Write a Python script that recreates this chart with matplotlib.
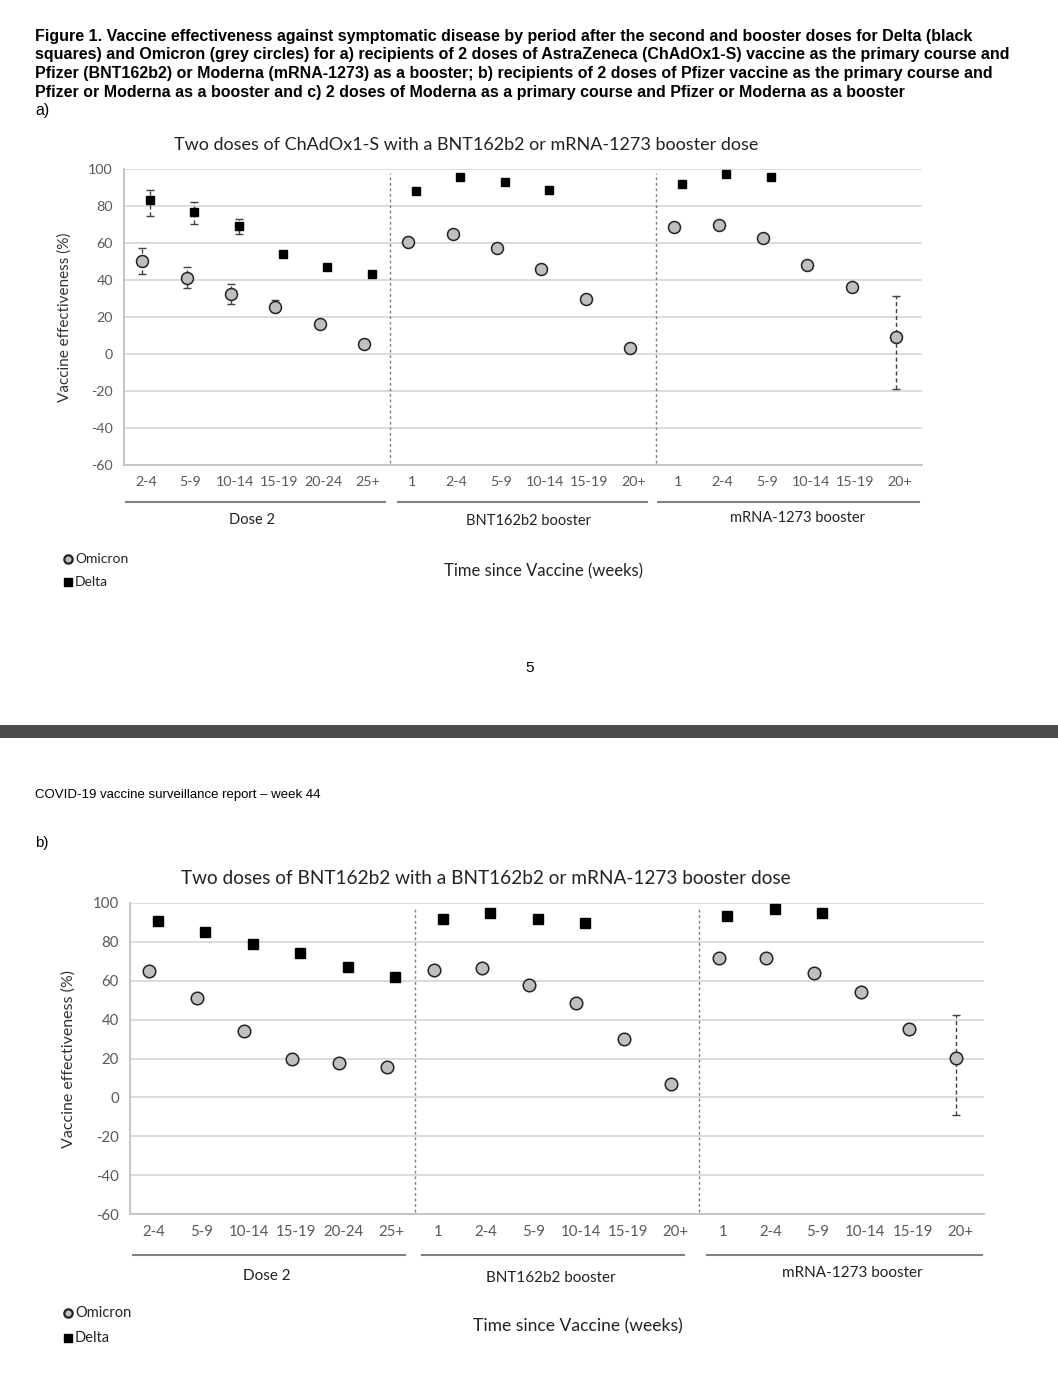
import numpy as np
import matplotlib
matplotlib.use("Agg")
import matplotlib.pyplot as plt
from matplotlib.lines import Line2D
from matplotlib.patches import Rectangle

# ------------------------------------------------------------
# Data
# ------------------------------------------------------------
periods = ["2-4", "5-9", "10-14", "15-19", "20-24", "25+",
           "1", "2-4", "5-9", "10-14", "15-19", "20+",
           "1", "2-4", "5-9", "10-14", "15-19", "20+"]
groups = ["Dose 2", "BNT162b2 booster", "mRNA-1273 booster"]
nan = np.nan

# a) ChAdOx1-S primary
a_omicron = [50.3, 41.3, 32.6, 25.6, 16.0, 5.6,
             60.4, 65.0, 57.3, 45.8, 29.6, 3.1,
             68.6, 69.7, 62.5, 48.1, 36.4, 9.0]
a_omicron_lo = [43.0, 35.9, 27.2, 22.9, nan, nan,
                nan, nan, nan, nan, nan, 1.5,
                nan, nan, nan, nan, nan, -18.9]
a_omicron_hi = [57.3, 47.2, 38.0, 29.0, nan, nan,
                nan, nan, nan, nan, nan, 5.0,
                nan, nan, nan, nan, nan, 31.2]
a_delta = [83.1, 76.6, 69.4, 54.1, 47.0, 43.2,
           88.3, 95.7, 92.8, 88.8, nan, nan,
           91.7, 97.3, 95.7, nan, nan, nan]
a_delta_lo = [74.6, 70.5, 64.9, 52.3, nan, nan,
              nan, nan, nan, nan, nan, nan,
              nan, nan, nan, nan, nan, nan]
a_delta_hi = [88.6, 82.0, 73.0, 55.8, nan, nan,
              nan, nan, nan, nan, nan, nan,
              nan, nan, nan, nan, nan, nan]

# b) BNT162b2 primary
b_omicron = [65.0, 51.1, 34.1, 19.9, 17.7, 15.8,
             65.7, 66.7, 57.9, 48.4, 29.9, 6.9,
             71.8, 71.5, 64.0, 54.0, 35.0, 20.3]
b_omicron_lo = [nan] * 16 + [32.8, -8.9]
b_omicron_hi = [nan] * 16 + [38.0, 42.4]
b_delta = [90.7, 85.0, 78.7, 74.2, 67.2, 62.1,
           91.9, 94.6, 91.6, 89.8, nan, nan,
           93.3, 96.9, 94.6, nan, nan, nan]

yticks = [-60, -40, -20, 0, 20, 40, 60, 80, 100]

title_a = "Two doses of ChAdOx1-S with a BNT162b2 or mRNA-1273 booster dose"
title_b = "Two doses of BNT162b2 with a BNT162b2 or mRNA-1273 booster dose"

caption = [
    "Figure 1. Vaccine effectiveness against symptomatic disease by period after the second and booster doses for Delta (black",
    "squares) and Omicron (grey circles) for a) recipients of 2 doses of AstraZeneca (ChAdOx1-S) vaccine as the primary course and",
    "Pfizer (BNT162b2) or Moderna (mRNA-1273) as a booster; b) recipients of 2 doses of Pfizer vaccine as the primary course and",
    "Pfizer or Moderna as a booster and c) 2 doses of Moderna as a primary course and Pfizer or Moderna as a booster",
]

# ------------------------------------------------------------
# Style
# ------------------------------------------------------------
W, H = 1058, 1388
DOC_FONT = "Liberation Sans"
CHART_FONT = "Lato"
GRID = "#d9d9d9"
TICK = "#595959"
OMI_FILL = "#bfbfbf"

plt.rcParams["axes.unicode_minus"] = False


def fx(x):
    return x / W


def fy(y):
    return 1 - y / H


def draw_panel(fig, box, title, title_xy, omi, delta, omi_lo, omi_hi,
               delta_lo=None, delta_hi=None, k=1.0):
    # k: scale of the page screenshot (second page is a bit bigger)
    left, top, right, bottom = box
    ax = fig.add_axes([fx(left), fy(bottom), (right - left) / W, (bottom - top) / H])
    x = np.arange(len(periods))
    ax.set_xlim(-0.5, len(periods) - 0.5)
    ax.set_ylim(-60, 100)

    for v in yticks[1:]:
        ax.axhline(v, color=GRID, lw=1.3, zorder=0)
    for xv in [5.5, 11.5]:
        ax.vlines(xv, -59, 98, colors="#808080", linestyles=(0, (2, 2)), lw=1.0, zorder=1)

    omi = np.array(omi, float)
    lo = np.array(omi_lo, float)
    hi = np.array(omi_hi, float)
    m = ~np.isnan(lo)
    eb = ax.errorbar(x[m] - 0.09, omi[m], yerr=[omi[m] - lo[m], hi[m] - omi[m]],
                     fmt="none", ecolor="#404040", elinewidth=1.0, capsize=3, zorder=2)
    eb[2][0].set_linestyle((0, (3, 2)))

    if delta_lo is not None:
        d = np.array(delta, float)
        dl = np.array(delta_lo, float)
        dh = np.array(delta_hi, float)
        md = ~np.isnan(dl)
        eb2 = ax.errorbar(x[md] + 0.09, d[md], yerr=[d[md] - dl[md], dh[md] - d[md]],
                          fmt="none", ecolor="#404040", elinewidth=1.0, capsize=3, zorder=2)
        eb2[2][0].set_linestyle((0, (3, 2)))

    ax.plot(x - 0.09, omi, "o", ms=8.6 * k, mfc=OMI_FILL, mec="#222222", mew=1.1,
            ls="none", zorder=3)
    ax.plot(x + 0.09, delta, "s", ms=6.3 * k, mfc="black", mec="black", ls="none", zorder=3)

    ax.set_yticks(yticks)
    ax.set_xticks(x)
    ax.set_xticklabels(periods)
    ax.tick_params(length=0, labelsize=10.3 * k, labelcolor=TICK, pad=8)
    for lab in ax.get_xticklabels() + ax.get_yticklabels():
        lab.set_family(CHART_FONT)
    for s in ["top", "right"]:
        ax.spines[s].set_visible(False)
    ax.spines["left"].set_color("#bfbfbf")
    ax.spines["bottom"].set_color("#bfbfbf")
    ax.spines["left"].set_linewidth(1.3)
    ax.spines["bottom"].set_linewidth(1.3)

    fig.text(fx(title_xy[0]), fy(title_xy[1]), title, family=CHART_FONT,
             fontsize=13 * k, ha="center", va="center", color="#222222")
    ax.set_ylabel("Vaccine effectiveness (%)", family=CHART_FONT, fontsize=11 * k,
                  color="#333333", labelpad=12)
    return ax


fig = plt.figure(figsize=(W / 100, H / 100), dpi=100)
fig.patch.set_facecolor("white")

# caption
for i, line in enumerate(caption):
    fig.text(fx(35), fy(36 + i * 18.7), line, family=DOC_FONT, weight="bold",
             fontsize=11.5, ha="left", va="center", color="black")
fig.text(fx(35), fy(111), "a)", family=DOC_FONT, fontsize=11.5, ha="left", va="center")

# panel a
draw_panel(fig, (124, 169, 922, 465), title_a, (466, 145),
           a_omicron, a_delta, a_omicron_lo, a_omicron_hi, a_delta_lo, a_delta_hi)

# panel b
draw_panel(fig, (130, 903, 984, 1214), title_b, (486, 878),
           b_omicron, b_delta, b_omicron_lo, b_omicron_hi, k=1.05)


def group_footer(y_line, segs, label_pos, legend_y, time_xy, k=1.0):
    for (x0, x1), g, (lx, ly) in zip(segs, groups, label_pos):
        fig.add_artist(Line2D([fx(x0), fx(x1)], [fy(y_line), fy(y_line)],
                              color="#808080", lw=1.5))
        fig.text(fx(lx), fy(ly), g, family=CHART_FONT, fontsize=10.5 * k,
                 ha="center", va="center", color="#222222")
    fig.add_artist(Line2D([fx(68)], [fy(legend_y[0])], marker="o", ms=6,
                          mfc=OMI_FILL, mec="#222222", mew=1.6))
    fig.text(fx(75), fy(legend_y[0]), "Omicron", family=CHART_FONT, fontsize=10 * k,
             ha="left", va="center", color="#222222")
    fig.add_artist(Line2D([fx(68)], [fy(legend_y[1])], marker="s", ms=5.5,
                          mfc="black", mec="black"))
    fig.text(fx(75), fy(legend_y[1]), "Delta", family=CHART_FONT, fontsize=10 * k,
             ha="left", va="center", color="#222222")
    fig.text(fx(time_xy[0]), fy(time_xy[1]), "Time since Vaccine (weeks)",
             family=CHART_FONT, fontsize=12 * k, ha="center", va="center", color="#222222")


group_footer(502, [(126, 385), (398, 647), (658, 919)],
             [(252, 520), (528, 521), (797, 518)], (559, 582), (544, 571))
group_footer(1255, [(133, 405), (422, 684), (707, 982)],
             [(267, 1276), (551, 1278), (852, 1273)], (1313, 1338), (578, 1326), k=1.05)

# page number and page break
fig.text(fx(530), fy(668), "5", family=DOC_FONT, fontsize=11, ha="center", va="center")
fig.add_artist(Rectangle((0, fy(738)), 1, 13 / H, transform=fig.transFigure,
                         facecolor="#4d4d4f", edgecolor="none"))
fig.text(fx(35), fy(795), "COVID-19 vaccine surveillance report \u2013 week 44",
         family=DOC_FONT, fontsize=9.5, ha="left", va="center")
fig.text(fx(35), fy(843), "b)", family=DOC_FONT, fontsize=11, ha="left", va="center")

fig.savefig("out.png", dpi=100, facecolor="white")
